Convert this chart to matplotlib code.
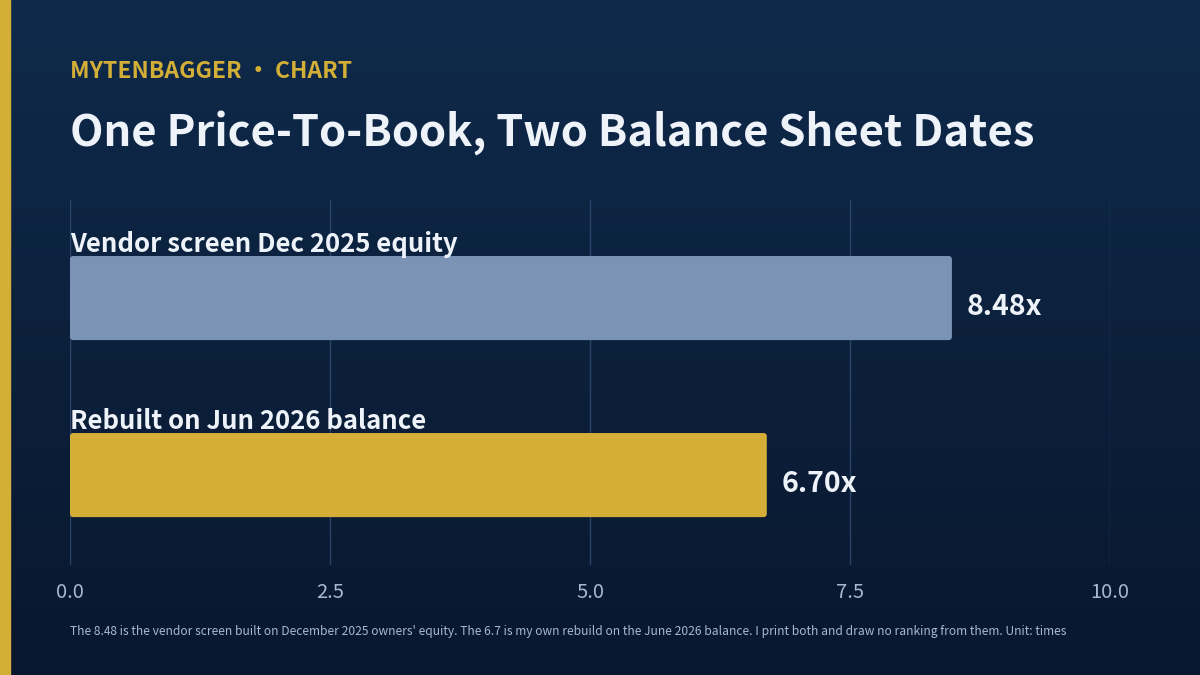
import numpy as np
import matplotlib.pyplot as plt
from matplotlib.patches import FancyBboxPatch, Rectangle

plt.rcParams['font.family'] = ['Noto Sans CJK SC', 'DejaVu Sans']

# chart data
categories = ["Vendor screen Dec 2025 equity", "Rebuilt on Jun 2026 balance"]
values = [8.48, 6.70]
value_labels = ["8.48x", "6.70x"]
bar_colors = ["#7b93b5", "#d4ae37"]
xticks = [0.0, 2.5, 5.0, 7.5, 10.0]

kicker = "MYTENBAGGER · CHART"
title = "One Price-To-Book, Two Balance Sheet Dates"
footnote = ("The 8.48 is the vendor screen built on December 2025 owners' equity. "
            "The 6.7 is my own rebuild on the June 2026 balance. "
            "I print both and draw no ranking from them. Unit: times")

fig = plt.figure(figsize=(12, 6.75), dpi=100)

# background gradient
bg = fig.add_axes([0, 0, 1, 1], zorder=-10)
grad = np.linspace(0, 1, 256).reshape(-1, 1)
top = np.array([15, 42, 75]) / 255
bot = np.array([9, 23, 46]) / 255
img = top + (bot - top) * grad[..., None]
bg.imshow(img, aspect='auto', extent=[0, 1, 0, 1])
bg.add_patch(Rectangle((0, 0), 10 / 1200, 1, color="#d4af37", transform=bg.transAxes))
bg.set_axis_off()

ax = fig.add_axes([70 / 1200, 110 / 675, 1040 / 1200, 365 / 675])
ax.set_facecolor('none')

y = np.arange(len(categories))
h = 0.475
bars = ax.barh(y, values, height=h, color=bar_colors)
# swap plain rectangles for slightly rounded ones
for b, c in zip(bars, bar_colors):
    b.set_visible(False)
    ax.add_patch(FancyBboxPatch((b.get_x(), b.get_y()), b.get_width(), b.get_height(),
                                boxstyle="round,pad=0,rounding_size=0.03",
                                mutation_aspect=0.59, color=c, zorder=3, lw=0))

for yi, v, lab, cat in zip(y, values, value_labels, categories):
    ax.text(v + 0.14, yi + 0.05, lab, ha='left', va='center', color='#eef2f9',
            fontsize=20.5, fontweight='bold')
    ax.text(0, yi - h / 2 + 0.012, cat, ha='left', va='bottom', color='#eef2f9',
            fontsize=18.5, fontweight='bold')

ax.set_xlim(0, 10)
ax.set_ylim(1.508, -0.554)
ax.set_xticks(xticks)
ax.set_xticklabels([f"{t:.1f}" for t in xticks])
ax.set_yticks([])
ax.grid(axis='x', color='#2a4569', lw=1)
ax.set_axisbelow(True)
ax.tick_params(axis='x', length=0, colors='#a9b8cf', labelsize=14.5, pad=12)
for s in ax.spines.values():
    s.set_visible(False)

fig.text(70 / 1200, 1 - 72 / 675, kicker, color='#d4af37', fontsize=16.5,
         fontweight='bold', va='center', ha='left')
fig.text(70 / 1200, 1 - 133 / 675, title, color='#eef2f9', fontsize=31.3,
         fontweight='bold', va='center', ha='left')
fig.text(70 / 1200, 1 - 632 / 675, footnote, color='#a9b8cf', fontsize=8.65,
         va='center', ha='left')

fig.savefig("out.png", dpi=100)
